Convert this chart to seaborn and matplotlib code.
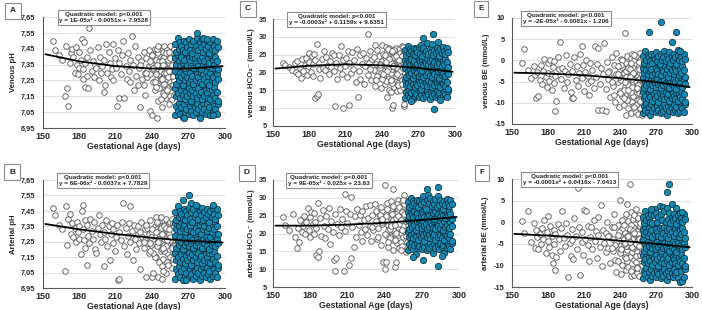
import matplotlib
matplotlib.use("Agg")
import matplotlib.pyplot as plt
import seaborn as sns
from matplotlib.ticker import FuncFormatter, FixedLocator

# ---------------- data ----------------
preterm_ga = [158, 160, 163, 166, 168, 169, 170, 171, 172, 173,
              174, 175, 176, 177, 178, 179, 180, 180, 181, 182,
              183, 183, 184, 185, 185, 186, 186, 187, 188, 189,
              190, 191, 192, 193, 194, 195, 196, 197, 198, 199,
              200, 200, 201, 202, 203, 204, 205, 206, 207, 208,
              208, 209, 210, 211, 212, 213, 213, 214, 215, 216,
              217, 218, 219, 220, 221, 222, 222, 223, 224, 225,
              226, 227, 228, 228, 229, 230, 231, 232, 233, 234,
              234, 235, 236, 237, 237, 238, 239, 240, 240, 241,
              241, 242, 242, 243, 243, 244, 244, 245, 245, 246,
              246, 246, 247, 247, 247, 248, 248, 248, 249, 249,
              249, 250, 250, 250, 251, 251, 251, 252, 252, 252,
              253, 253, 253, 254, 254, 254, 255, 255, 255, 256,
              256, 256, 257, 257, 257, 258, 258, 258, 245, 250,
              239, 243, 247, 251, 253, 255, 236, 244, 249, 256,
              238, 240, 242, 244, 246, 248, 250, 252, 254, 256,
              241, 243, 245, 247, 249, 251, 253, 255, 257, 258,
              230, 233, 235, 238, 248, 252, 254, 256, 257, 258]

term_ga = [259, 260, 261, 262, 263, 264, 265, 266, 267, 268, 269, 270, 271, 272, 273, 274, 275, 276,
           277, 278, 279, 280, 281, 282, 283, 284, 285, 286, 287, 288, 289, 290, 291, 292, 293, 294,
           259, 260, 261, 262, 263, 264, 265, 266, 267, 268, 269, 270, 271, 272, 273, 274, 275, 276,
           277, 278, 279, 280, 281, 282, 283, 284, 285, 286, 287, 288, 289, 290, 291, 292, 293, 294,
           259, 260, 261, 262, 263, 264, 265, 266, 267, 268, 269, 270, 271, 272, 273, 274, 275, 276,
           277, 278, 279, 280, 281, 282, 283, 284, 285, 286, 287, 288, 289, 290, 291, 292, 293, 294,
           259, 260, 261, 262, 263, 264, 265, 266, 267, 268, 269, 270, 271, 272, 273, 274, 275, 276,
           277, 278, 279, 280, 281, 282, 283, 284, 285, 286, 287, 288, 289, 290, 291, 292, 293, 294,
           259, 260, 261, 262, 263, 264, 265, 266, 267, 268, 269, 270, 271, 272, 273, 274, 275, 276,
           277, 278, 279, 280, 281, 282, 283, 284, 285, 286, 287, 288, 289, 290, 291, 292, 293, 294]

fit_ga = [152, 180, 210, 240, 270, 298]

# A  Venous pH
venous_ph_pre = [7.50, 7.44, 7.41, 7.38, 7.15, 7.47, 7.20, 7.09, 7.36, 7.42,
                 7.45, 7.40, 7.30, 7.46, 7.35, 7.29, 7.43, 7.33, 7.38, 7.51,
                 7.32, 7.26, 7.49, 7.36, 7.21, 7.28, 7.40, 7.20, 7.58, 7.44,
                 7.31, 7.37, 7.27, 7.35, 7.33, 7.46, 7.25, 7.40, 7.30, 7.34,
                 7.18, 7.38, 7.22, 7.48, 7.30, 7.43, 7.36, 7.27, 7.32, 7.48,
                 7.25, 7.39, 7.33, 7.09, 7.44, 7.14, 7.36, 7.29, 7.41, 7.50,
                 7.14, 7.34, 7.26, 7.42, 7.31, 7.24, 7.38, 7.53, 7.35, 7.19,
                 7.47, 7.28, 7.40, 7.22, 7.33, 7.08, 7.37, 7.26, 7.43, 7.30,
                 7.16, 7.39, 7.27, 7.44, 7.34, 7.06, 7.31, 7.03, 7.41, 7.24,
                 7.36, 7.19, 7.45, 7.29, 7.38, 7.01, 7.33, 7.12, 7.42, 7.25,
                 7.37, 7.46, 7.21, 7.31, 7.40, 7.08, 7.34, 7.44, 7.27, 7.17,
                 7.39, 7.30, 7.23, 7.47, 7.35, 7.14, 7.42, 7.26, 7.37, 7.32,
                 7.20, 7.44, 7.29, 7.36, 7.10, 7.41, 7.24, 7.33, 7.47, 7.28,
                 7.38, 7.18, 7.43, 7.30, 7.35, 7.25, 7.40, 7.32, 7.34, 7.40,
                 7.36, 7.25, 7.13, 7.30, 7.38, 7.15, 7.31, 7.35, 7.43, 7.22,
                 7.29, 7.41, 7.24, 7.45, 7.20, 7.37, 7.16, 7.44, 7.31, 7.13,
                 7.33, 7.21, 7.47, 7.26, 7.35, 7.42, 7.27, 7.39, 7.22, 7.45,
                 7.35, 7.22, 7.30, 7.37, 7.26, 7.19, 7.43, 7.35, 7.28, 7.16]
venous_ph_term = [7.03, 7.09, 7.06, 7.11, 7.04, 7.08, 7.02, 7.10, 7.05, 7.07, 7.12, 7.04, 7.09, 7.06, 7.11, 7.03, 7.08, 7.05,
                  7.10, 7.07, 7.02, 7.09, 7.05, 7.11, 7.07, 7.04, 7.10, 7.06, 7.08, 7.03, 7.12, 7.05, 7.09, 7.07, 7.04, 7.10,
                  7.20, 7.15, 7.17, 7.22, 7.14, 7.19, 7.16, 7.21, 7.13, 7.18, 7.15, 7.20, 7.17, 7.12, 7.19, 7.15, 7.21, 7.17,
                  7.14, 7.20, 7.16, 7.18, 7.13, 7.22, 7.15, 7.19, 7.17, 7.14, 7.20, 7.13, 7.19, 7.16, 7.21, 7.14, 7.18, 7.12,
                  7.31, 7.23, 7.28, 7.25, 7.30, 7.27, 7.22, 7.29, 7.25, 7.31, 7.27, 7.24, 7.30, 7.26, 7.28, 7.23, 7.32, 7.25,
                  7.29, 7.27, 7.24, 7.30, 7.23, 7.29, 7.26, 7.31, 7.24, 7.28, 7.22, 7.30, 7.25, 7.27, 7.32, 7.24, 7.29, 7.26,
                  7.39, 7.35, 7.41, 7.37, 7.34, 7.40, 7.36, 7.38, 7.33, 7.42, 7.35, 7.39, 7.37, 7.34, 7.40, 7.33, 7.39, 7.36,
                  7.41, 7.34, 7.38, 7.32, 7.40, 7.35, 7.37, 7.42, 7.34, 7.39, 7.36, 7.41, 7.33, 7.38, 7.35, 7.40, 7.37, 7.32,
                  7.48, 7.43, 7.52, 7.45, 7.49, 7.47, 7.44, 7.50, 7.43, 7.49, 7.46, 7.51, 7.44, 7.48, 7.42, 7.50, 7.45, 7.47,
                  7.52, 7.44, 7.49, 7.46, 7.51, 7.43, 7.48, 7.45, 7.50, 7.47, 7.42, 7.49, 7.45, 7.51, 7.47, 7.44, 7.50, 7.46]
venous_ph_out_ga = [277, 282, 285, 266, 279, 290]
venous_ph_out = [7.55, 7.52, 7.51, 7.01, 7.01, 7.03]
venous_ph_fit = [7.415, 7.37, 7.34, 7.325, 7.325, 7.34]

# C  venous HCO3-
venous_hco3_pre = [22.7, 22.0, 21.5, 20.8, 22.6, 20.1, 23.3, 19.6, 21.2, 18.4,
                   23.8, 20.5, 22.2, 24.1, 19.2, 21.7, 25.6, 23.0, 20.2, 24.7,
                   22.4, 18.9, 25.3, 12.8, 23.5, 13.5, 27.9, 14.0, 21.1, 18.5,
                   23.9, 21.3, 26.1, 20.6, 24.4, 22.0, 19.7, 23.2, 21.5, 25.4,
                   20.3, 24.8, 10.5, 22.6, 18.1, 25.0, 21.4, 27.3, 19.5, 23.6,
                   10.1, 21.8, 24.2, 18.7, 26.0, 10.9, 22.7, 19.9, 25.8, 21.0,
                   23.4, 17.2, 26.6, 13.2, 20.4, 24.9, 18.2, 22.3, 25.5, 16.9,
                   21.9, 24.0, 30.8, 19.3, 22.8, 25.9, 17.8, 23.7, 20.6, 27.6,
                   16.2, 22.5, 26.4, 19.0, 24.6, 21.2, 15.6, 27.8, 23.1, 18.6,
                   25.2, 20.8, 16.8, 23.9, 27.2, 13.0, 21.6, 18.3, 25.7, 22.4,
                   15.1, 26.9, 19.8, 23.3, 14.4, 10.0, 24.1, 20.9, 11.0, 26.3,
                   18.0, 22.0, 15.9, 25.1, 21.3, 27.0, 17.4, 23.6, 19.4, 14.8,
                   24.7, 20.5, 16.4, 22.9, 26.6, 18.8, 21.8, 25.5, 15.2, 23.2,
                   19.6, 27.4, 16.0, 22.6, 24.9, 10.7, 20.1, 11.3, 21.0, 24.3,
                   20.0, 17.6, 22.8, 19.1, 17.0, 24.0, 18.9, 26.1, 21.7, 17.9,
                   22.3, 18.1, 25.0, 20.4, 23.8, 17.0, 26.2, 21.4, 19.2, 24.5,
                   19.5, 23.0, 26.6, 17.8, 21.9, 24.7, 16.5, 20.3, 27.1, 22.9,
                   20.9, 24.3, 18.0, 22.1, 25.9, 19.7, 23.5, 16.8, 21.3, 26.0]
venous_hco3_term = [12.8, 14.6, 13.7, 15.2, 13.1, 14.3, 12.5, 14.9, 13.4, 14.0, 15.5, 13.1, 14.6, 13.7, 15.2, 12.8, 14.3, 13.4,
                    14.9, 14.0, 12.5, 14.6, 13.4, 15.2, 14.0, 13.1, 14.9, 13.7, 14.3, 12.8, 15.5, 13.4, 14.6, 14.0, 13.1, 14.9,
                    17.9, 16.4, 17.0, 18.5, 16.1, 17.6, 16.7, 18.2, 15.8, 17.3, 16.4, 17.9, 17.0, 15.5, 17.6, 16.4, 18.2, 17.0,
                    16.1, 17.9, 16.7, 17.3, 15.8, 18.5, 16.4, 17.6, 17.0, 16.1, 17.9, 15.8, 17.6, 16.7, 18.2, 16.1, 17.3, 15.5,
                    21.2, 18.8, 20.3, 19.4, 20.9, 20.0, 18.5, 20.6, 19.4, 21.2, 20.0, 19.1, 20.9, 19.7, 20.3, 18.8, 21.5, 19.4,
                    20.6, 20.0, 19.1, 20.9, 18.8, 20.6, 19.7, 21.2, 19.1, 20.3, 18.5, 20.9, 19.4, 20.0, 21.5, 19.1, 20.6, 19.7,
                    23.6, 22.4, 24.2, 23.0, 22.1, 23.9, 22.7, 23.3, 21.8, 24.5, 22.4, 23.6, 23.0, 22.1, 23.9, 21.8, 23.6, 22.7,
                    24.2, 22.1, 23.3, 21.5, 23.9, 22.4, 23.0, 24.5, 22.1, 23.6, 22.7, 24.2, 21.8, 23.3, 22.4, 23.9, 23.0, 21.5,
                    26.3, 24.8, 27.5, 25.4, 26.6, 26.0, 25.1, 26.9, 24.8, 26.6, 25.7, 27.2, 25.1, 27.8, 24.5, 26.9, 25.4, 26.0,
                    28.2, 25.1, 26.6, 25.7, 27.9, 24.8, 26.3, 25.4, 26.9, 26.0, 24.5, 26.6, 25.4, 27.2, 26.0, 25.1, 26.9, 25.7]
venous_hco3_out_ga = [283, 282, 274, 264, 288, 286]
venous_hco3_out = [9.8, 30.7, 29.6, 12.0, 12.4, 28.6]
venous_hco3_fit = [21.1, 21.9, 22.3, 22.0, 21.3, 20.2]

# E  venous BE
venous_be_pre = [-0.6, 2.7, -2.2, -4.1, -1.3, -3.5, -8.8, -2.8, -8.4, -4.6,
                 -1.0, -5.6, -2.4, 0.4, -3.9, -6.2, -0.7, -2.9, -4.8, 0.1,
                 -3.2, -7.0, -1.5, -5.4, -0.2, -12.0, -3.7, -9.5, 0.7, -2.0,
                 4.4, -4.4, -1.8, -6.6, -2.6, 1.2, -5.0, -3.3, -0.9, -7.4,
                 -8.8, -2.4, -8.9, 0.9, -4.7, -1.4, -6.0, -3.0, 1.4, 3.5,
                 -4.2, -1.1, -7.1, -2.7, 0.2, -5.3, -3.6, -8.2, -0.5, -4.9,
                 -2.2, -6.4, 3.3, -3.8, -0.8, 2.9, -11.6, -5.6, -1.9, -11.7,
                 -3.1, 4.2, -12.0, -6.8, -0.3, -4.5, -2.4, -8.6, 0.8, -3.9,
                 -6.1, -1.2, -9.9, -3.3, 1.7, -5.2, -11.0, -2.0, -7.3, 0.3,
                 -4.6, -8.4, -1.6, -10.6, -3.0, 6.5, -6.2, -0.6, -12.9, -4.0,
                 -9.0, 1.0, -5.7, -2.6, -11.3, -7.6, -1.0, -4.4, -12.3, 0.6,
                 -6.8, -3.4, -9.7, 1.5, -5.1, -1.9, -10.8, -7.1, -2.9, 0.0,
                 -4.8, -12.1, -8.0, -2.2, -6.4, 0.9, -3.7, -9.3, -12.6, -1.3,
                 -5.5, -7.8, -2.9, -11.2, 0.4, -4.1, -8.9, -12.9, -2.5, -4.4,
                 -3.8, -6.9, -1.7, -8.3, 1.1, -5.8, -4.3, -9.1, -7.4, -2.0,
                 -3.2, -7.7, 0.1, -5.0, -9.4, -2.0, -6.3, 1.3, -10.2, -4.5,
                 -1.1, -8.8, -4.0, -6.9, -0.5, -3.0, -10.5, -5.7, 1.8, -8.0,
                 -2.7, -5.0, -8.2, -1.4, -3.9, -11.0, -6.5, -0.3, -9.6, -3.3]
venous_be_term = [-12.5, -10.7, -11.6, -10.1, -12.2, -11.0, -12.8, -10.4, -11.9, -11.3, -9.8, -12.2, -10.7, -11.6, -10.1, -12.5, -11.0, -11.9,
                  -10.4, -11.3, -12.8, -10.7, -11.9, -10.1, -11.3, -12.2, -10.4, -11.6, -11.0, -12.5, -9.8, -11.9, -10.7, -11.3, -12.2, -10.4,
                  -7.4, -8.9, -8.3, -6.8, -9.2, -7.7, -8.6, -7.1, -9.5, -8.0, -8.9, -7.4, -8.3, -9.8, -7.7, -8.9, -7.1, -8.3,
                  -9.2, -7.4, -8.6, -8.0, -9.5, -6.8, -8.9, -7.7, -8.3, -9.2, -7.4, -9.5, -7.7, -8.6, -7.1, -9.2, -8.0, -9.8,
                  -4.1, -6.5, -5.0, -5.9, -4.4, -5.3, -6.8, -4.7, -5.9, -4.1, -5.3, -6.2, -4.4, -5.6, -5.0, -6.5, -3.8, -5.9,
                  -4.7, -5.3, -6.2, -4.4, -6.5, -4.7, -5.6, -4.1, -6.2, -5.0, -6.8, -4.4, -5.9, -5.3, -3.8, -6.2, -4.7, -5.6,
                  -1.7, -2.9, -1.1, -2.3, -3.2, -1.4, -2.6, -2.0, -3.5, -0.8, -2.9, -1.7, -2.3, -3.2, -1.4, -3.5, -1.7, -2.6,
                  -1.1, -3.2, -2.0, -3.8, -1.4, -2.9, -2.3, -0.8, -3.2, -1.7, -2.6, -1.1, -3.5, -2.0, -2.9, -1.4, -2.3, -3.8,
                  1.0, -0.5, 2.2, 0.1, 1.3, 0.7, -0.2, 1.6, -0.5, 1.3, 0.4, 1.9, -0.2, 1.0, -0.8, 1.6, 0.1, 0.7,
                  2.2, -0.2, 1.3, 0.4, 1.9, -0.5, 1.0, 0.1, 1.6, 0.7, -0.8, 1.3, 0.1, 1.9, 0.7, -0.2, 1.6, 0.4]
venous_be_out_ga = [274, 264, 287, 283, 288, 290]
venous_be_out = [9.1, 6.7, 6.7, 4.4, 2.4, 2.2]
venous_be_fit = [-2.9, -3.1, -3.5, -4.2, -5.1, -6.3]

# B  Arterial pH
arterial_ph_pre = [7.47, 7.42, 7.36, 7.33, 7.06, 7.48, 7.23, 7.40, 7.43, 7.30,
                   7.37, 7.28, 7.34, 7.25, 7.38, 7.31, 7.35, 7.27, 7.17, 7.45,
                   7.49, 7.33, 7.26, 7.39, 7.21, 7.10, 7.36, 7.29, 7.24, 7.40,
                   7.32, 7.27, 7.38, 7.20, 7.18, 7.34, 7.42, 7.30, 7.25, 7.36,
                   7.09, 7.31, 7.27, 7.39, 7.22, 7.35, 7.13, 7.30, 7.37, 7.24,
                   7.33, 7.19, 7.28, 7.36, 7.00, 7.01, 7.31, 7.26, 7.38, 7.50,
                   7.22, 7.34, 7.17, 7.29, 7.37, 7.48, 7.25, 7.32, 7.13, 7.36,
                   7.27, 7.20, 7.35, 7.30, 7.24, 7.07, 7.38, 7.28, 7.21, 7.33,
                   7.26, 7.02, 7.34, 7.18, 7.30, 7.39, 7.23, 7.02, 7.31, 7.05,
                   7.27, 7.35, 7.16, 7.29, 7.41, 7.22, 7.33, 7.02, 7.26, 7.12,
                   7.30, 7.38, 7.19, 7.25, 7.35, 7.01, 7.28, 7.09, 7.33, 7.21,
                   7.14, 7.27, 7.36, 7.23, 7.31, 7.05, 7.40, 7.18, 7.29, 7.34,
                   7.24, 7.11, 7.32, 7.37, 7.20, 7.28, 7.15, 7.30, 7.38, 7.25,
                   7.08, 7.33, 7.22, 7.29, 7.36, 7.17, 7.27, 7.40, 7.32, 7.19,
                   7.28, 7.15, 7.34, 7.22, 7.31, 7.26, 7.24, 7.37, 7.06, 7.31,
                   7.24, 7.33, 7.15, 7.38, 7.27, 7.20, 7.35, 7.12, 7.30, 7.40,
                   7.18, 7.31, 7.25, 7.41, 7.21, 7.34, 7.10, 7.28, 7.37, 7.22,
                   7.31, 7.25, 7.36, 7.19, 7.30, 7.26, 7.33, 7.21, 7.14, 7.35]
arterial_ph_term = [7.01, 7.07, 7.04, 7.09, 7.02, 7.06, 7.00, 7.08, 7.03, 7.05, 7.10, 7.02, 7.07, 7.04, 7.09, 7.01, 7.06, 7.03,
                    7.08, 7.05, 7.00, 7.07, 7.03, 7.09, 7.05, 7.02, 7.08, 7.04, 7.06, 7.01, 7.10, 7.03, 7.07, 7.05, 7.02, 7.08,
                    7.18, 7.13, 7.15, 7.20, 7.12, 7.17, 7.14, 7.19, 7.11, 7.16, 7.13, 7.18, 7.15, 7.10, 7.17, 7.13, 7.19, 7.15,
                    7.12, 7.18, 7.14, 7.16, 7.11, 7.20, 7.13, 7.17, 7.15, 7.12, 7.18, 7.11, 7.17, 7.14, 7.19, 7.12, 7.16, 7.10,
                    7.29, 7.21, 7.26, 7.23, 7.28, 7.25, 7.20, 7.27, 7.23, 7.29, 7.25, 7.22, 7.28, 7.24, 7.26, 7.21, 7.30, 7.23,
                    7.27, 7.25, 7.22, 7.28, 7.21, 7.27, 7.24, 7.29, 7.22, 7.26, 7.20, 7.28, 7.23, 7.25, 7.30, 7.22, 7.27, 7.24,
                    7.37, 7.33, 7.39, 7.35, 7.32, 7.38, 7.34, 7.36, 7.31, 7.40, 7.33, 7.37, 7.35, 7.32, 7.38, 7.31, 7.37, 7.34,
                    7.39, 7.32, 7.36, 7.30, 7.38, 7.33, 7.35, 7.40, 7.32, 7.37, 7.34, 7.39, 7.31, 7.36, 7.33, 7.38, 7.35, 7.30,
                    7.44, 7.39, 7.48, 7.41, 7.45, 7.43, 7.40, 7.46, 7.39, 7.45, 7.42, 7.47, 7.40, 7.44, 7.38, 7.46, 7.41, 7.43,
                    7.48, 7.40, 7.45, 7.42, 7.47, 7.39, 7.44, 7.41, 7.46, 7.43, 7.38, 7.45, 7.41, 7.47, 7.43, 7.40, 7.46, 7.42]
arterial_ph_out_ga = [270, 265, 272, 290, 276, 268]
arterial_ph_out = [7.55, 7.52, 7.50, 7.49, 7.49, 7.00]
arterial_ph_fit = [7.365, 7.33, 7.30, 7.275, 7.255, 7.245]

# D  arterial HCO3-
arterial_hco3_pre = [24.5, 22.3, 21.0, 25.5, 19.0, 16.0, 21.6, 17.5, 23.8, 20.4,
                     22.2, 25.0, 19.8, 23.3, 27.1, 21.1, 24.6, 18.9, 26.0, 22.7,
                     20.0, 25.8, 23.2, 14.0, 21.5, 13.5, 28.6, 15.0, 24.3, 19.4,
                     26.5, 22.0, 18.6, 24.9, 21.3, 27.2, 17.0, 23.5, 20.3, 12.5,
                     9.5, 25.4, 13.0, 22.6, 19.7, 26.8, 21.9, 24.1, 9.5, 31.2,
                     20.8, 26.2, 23.0, 11.3, 25.6, 13.2, 30.3, 21.7, 16.3, 24.8,
                     19.1, 27.0, 22.4, 25.2, 20.5, 18.0, 26.4, 23.7, 21.2, 27.6,
                     19.6, 24.4, 22.1, 27.9, 17.8, 25.1, 20.9, 28.3, 23.6, 18.4,
                     26.1, 21.5, 24.8, 16.9, 27.5, 22.8, 12.1, 33.5, 10.0, 12.1,
                     25.5, 19.2, 28.6, 22.3, 16.1, 26.7, 20.6, 24.0, 29.1, 18.1,
                     23.4, 27.2, 32.6, 21.1, 15.4, 10.5, 25.8, 19.9, 12.0, 28.0,
                     22.5, 17.3, 26.4, 24.2, 19.5, 29.5, 21.8, 15.8, 27.4, 23.0,
                     20.2, 25.9, 17.6, 28.8, 22.9, 16.5, 26.2, 24.6, 19.0, 30.8,
                     21.4, 27.7, 18.2, 25.3, 14.9, 23.8, 29.0, 20.7, 22.7, 25.7,
                     24.7, 21.0, 23.9, 26.9, 15.5, 22.1, 25.3, 18.8, 24.4, 28.4,
                     23.2, 19.8, 27.0, 21.4, 25.6, 18.3, 28.4, 22.8, 26.1, 20.6,
                     24.9, 17.6, 22.0, 27.8, 20.1, 25.0, 23.7, 29.3, 19.2, 26.5,
                     21.7, 26.4, 19.0, 24.2, 22.3, 27.3, 20.9, 25.4, 23.6, 17.5]
arterial_hco3_term = [15.3, 17.1, 16.2, 17.7, 15.6, 16.8, 14.3, 17.4, 15.9, 16.5, 18.0, 15.6, 17.1, 16.2, 17.7, 15.3, 16.8, 15.9,
                      17.4, 16.5, 14.4, 17.1, 15.9, 17.7, 16.5, 15.6, 17.4, 16.2, 16.8, 14.6, 18.0, 15.9, 17.1, 16.5, 15.6, 17.4,
                      20.4, 18.9, 19.5, 21.0, 18.6, 20.1, 19.2, 20.7, 18.3, 19.8, 18.9, 20.4, 19.5, 18.0, 20.1, 18.9, 20.7, 19.5,
                      18.6, 20.4, 19.2, 19.8, 18.3, 21.0, 18.9, 20.1, 19.5, 18.6, 20.4, 18.3, 20.1, 19.2, 20.7, 18.6, 19.8, 18.0,
                      23.7, 21.3, 22.8, 21.9, 23.4, 22.5, 21.0, 23.1, 21.9, 23.7, 22.5, 21.6, 23.4, 22.2, 22.8, 21.3, 24.0, 21.9,
                      23.1, 22.5, 21.6, 23.4, 21.3, 23.1, 22.2, 23.7, 21.6, 22.8, 21.0, 23.4, 21.9, 22.5, 24.0, 21.6, 23.1, 22.2,
                      26.1, 24.9, 26.7, 25.5, 24.6, 26.4, 25.2, 25.8, 24.3, 27.0, 24.9, 26.1, 25.5, 24.6, 26.4, 24.3, 26.1, 25.2,
                      26.7, 24.6, 25.8, 24.0, 26.4, 24.9, 25.5, 27.0, 24.6, 26.1, 25.2, 26.7, 24.3, 25.8, 24.9, 26.4, 25.5, 24.0,
                      28.8, 27.3, 30.0, 27.9, 29.1, 28.5, 27.6, 29.4, 27.3, 29.1, 28.2, 29.7, 30.6, 28.8, 27.0, 29.4, 30.9, 28.5,
                      30.0, 27.6, 29.1, 28.2, 29.7, 27.3, 30.4, 27.9, 29.4, 28.5, 27.0, 29.1, 27.9, 29.7, 28.5, 27.6, 29.4, 28.2]
arterial_hco3_out_ga = [283, 283, 274, 263, 271, 286]
arterial_hco3_out = [11.0, 33.1, 32.6, 13.5, 12.7, 13.6]
arterial_hco3_fit = [22.2, 22.2, 22.5, 23.0, 23.8, 24.6]

# F  arterial BE
arterial_be_pre = [0.3, -2.4, 2.7, -4.6, -0.2, -6.0, -1.9, -3.5, -6.3, -2.8,
                   -5.1, -1.3, -3.9, 0.6, -7.2, -2.2, -4.4, 1.5, -5.8, -0.9,
                   -3.2, -7.7, -9.5, -1.7, -5.0, -11.1, -2.7, -8.0, -0.5, -4.0,
                   -6.6, -1.4, 2.7, -3.6, -5.5, -0.1, -2.9, -12.6, -4.7, -7.8,
                   -1.6, -4.1, -8.6, 0.9, -3.1, -6.1, 7.9, -1.0, -12.3, -4.6,
                   -2.3, -7.5, 2.9, -3.8, 2.6, -5.3, -0.8, -9.0, -3.4, -1.2,
                   -6.3, 0.5, -4.3, -2.0, -8.3, -3.0, 1.2, -5.7, 4.0, -10.2,
                   -1.8, -4.9, -7.0, -2.6, 0.0, -5.9, -3.3, -9.5, -1.1, -6.7,
                   -3.9, 1.9, -8.8, -4.6, -11.5, -0.7, -6.0, 5.1, -3.0, -12.0,
                   -5.2, -1.5, -9.8, 0.8, -4.0, -7.3, -2.4, -11.0, 1.8, 4.1,
                   -6.5, -3.2, -10.4, 0.2, -5.4, 8.8, -8.1, -1.9, -12.4, -4.8,
                   2.3, -7.0, -2.8, -10.9, -5.9, 0.7, -3.6, -8.7, -12.2, -1.4,
                   -4.5, 3.0, -9.3, -2.1, -6.8, -11.8, 0.4, -5.1, -3.0, -8.2,
                   1.6, -12.5, -4.2, -7.6, -0.9, -10.0, -2.5, -6.1, -5.6, -4.0,
                   -2.2, -5.0, -3.6, -1.0, -7.9, -2.7, -5.3, -8.0, -0.6, -3.7,
                   -2.9, -7.1, 0.6, -4.7, -9.0, -1.6, -5.8, 1.7, -10.3, -3.8,
                   -6.2, -0.7, -8.4, -3.3, -11.3, -2.0, -5.0, 0.9, -7.6, -4.2,
                   -3.1, -6.0, -1.2, -8.9, -4.6, -2.4, -10.7, -5.5, -0.2, -7.2]
arterial_be_term = [-13.0, -11.2, -12.1, -10.6, -12.7, -11.5, -13.3, -10.9, -12.4, -11.8, -10.3, -12.7, -11.2, -12.1, -10.6, -13.0, -11.5, -12.4,
                    -10.9, -11.8, -13.3, -11.2, -12.4, -10.6, -11.8, -12.7, -10.9, -12.1, -11.5, -13.0, -10.3, -13.8, -11.2, -13.6, -12.7, -10.9,
                    -7.7, -9.2, -8.6, -7.1, -9.5, -8.0, -8.9, -7.4, -9.8, -8.3, -9.2, -7.7, -8.6, -10.1, -8.0, -9.2, -7.4, -8.6,
                    -9.5, -7.7, -8.9, -8.3, -9.8, -7.1, -9.2, -8.0, -8.6, -9.5, -7.7, -9.8, -8.0, -8.9, -7.4, -9.5, -8.3, -10.1,
                    -4.2, -6.6, -5.1, -6.0, -4.5, -5.4, -6.9, -4.8, -6.0, -4.2, -5.4, -6.3, -4.5, -5.7, -5.1, -6.6, -3.9, -6.0,
                    -4.8, -5.4, -6.3, -4.5, -6.6, -4.8, -5.7, -4.2, -6.3, -5.1, -6.9, -4.5, -6.0, -5.4, -3.9, -6.3, -4.8, -5.7,
                    -1.6, -2.8, -1.0, -2.2, -3.1, -1.3, -2.5, -1.9, -3.4, -0.7, -2.8, -1.6, -2.2, -3.1, -1.3, -3.4, -1.6, -2.5,
                    -1.0, -3.1, -1.9, -3.7, -1.3, -2.8, -2.2, -0.7, -3.1, -1.6, -2.5, -1.0, -3.4, -1.9, -2.8, -1.3, -2.2, -3.7,
                    1.3, -0.2, 2.5, 0.4, 1.6, 1.0, 0.1, 1.9, -0.2, 1.6, 3.1, 2.2, 0.1, 1.3, 3.8, 1.9, 0.4, 3.6,
                    2.5, 0.1, 3.3, 0.7, 2.2, -0.2, 1.3, 0.4, 1.9, 1.0, -0.5, 1.6, 0.4, 2.2, 1.0, 0.1, 1.9, 0.7]
arterial_be_out_ga = [281, 279, 283, 287, 292, 266]
arterial_be_out = [8.8, 7.0, 4.3, 3.2, 2.4, 3.0]
arterial_be_fit = [-2.7, -3.1, -3.6, -4.3, -5.0, -5.8]

# ---------------- figure ----------------
sns.set_style("white")
plt.rcParams["font.family"] = ["Liberation Sans", "DejaVu Sans"]
plt.rcParams["font.weight"] = "bold"

W, H = 702, 310
fig = plt.figure(figsize=(W / 100, H / 100), dpi=100)

WHITE_EDGE = "#5f5f5f"
BLUE_FACE = "#1689b3"
BLUE_EDGE = "#0a2c3a"
HEAD = "Quadratic model: p<0.001\n"

panels = [
    dict(rect=(43, 17, 225, 128), letter="A", lpos=(13, 11), ylabel="Venous pH",
         pre=venous_ph_pre, term=venous_ph_term, out_ga=venous_ph_out_ga, out=venous_ph_out,
         fit=venous_ph_fit, ylim=(6.95, 7.65), ticks=[6.95, 7.05, 7.15, 7.25, 7.35, 7.45, 7.55, 7.65],
         comma=True, pad=5.5, eq="y = 1E-05x² - 0.0051x + 7.9528", bx=0.335),
    dict(rect=(273, 19, 455, 126), letter="C", lpos=(248, 9), ylabel="venous HCO₃⁻ (mmol/L)",
         pre=venous_hco3_pre, term=venous_hco3_term, out_ga=venous_hco3_out_ga, out=venous_hco3_out,
         fit=venous_hco3_fit, ylim=(5, 35), ticks=[5, 10, 15, 20, 25, 30, 35],
         comma=False, pad=4.3, eq="y = -0.0003x² + 0.1159x + 9.6351", bx=0.35),
    dict(rect=(512, 18, 692, 124), letter="E", lpos=(481, 9), ylabel="venous BE (mmol/L)",
         pre=venous_be_pre, term=venous_be_term, out_ga=venous_be_out_ga, out=venous_be_out,
         fit=venous_be_fit, ylim=(-15, 10), ticks=[-15, -10, -5, 0, 5, 10],
         comma=False, pad=5.0, eq="y = -2E-05x² - 0.0081x - 1.206", bx=0.30),
    dict(rect=(43, 180, 225, 288), letter="B", lpos=(12, 172), ylabel="Arterial pH",
         pre=arterial_ph_pre, term=arterial_ph_term, out_ga=arterial_ph_out_ga, out=arterial_ph_out,
         fit=arterial_ph_fit, ylim=(6.95, 7.65), ticks=[6.95, 7.05, 7.15, 7.25, 7.35, 7.45, 7.55, 7.65],
         comma=True, pad=5.5, eq="y = 6E-06x² - 0.0037x + 7.7829", bx=0.33),
    dict(rect=(273, 180, 459, 287), letter="D", lpos=(247, 173), ylabel="arterial HCO₃⁻ (mmol/L)",
         pre=arterial_hco3_pre, term=arterial_hco3_term, out_ga=arterial_hco3_out_ga, out=arterial_hco3_out,
         fit=arterial_hco3_fit, ylim=(5, 35), ticks=[5, 10, 15, 20, 25, 30, 35],
         comma=False, pad=4.3, eq="y = 9E-05x² - 0.025x + 23.63", bx=0.30),
    dict(rect=(512, 179, 692, 287), letter="F", lpos=(482, 173), ylabel="arterial BE (mmol/L)",
         pre=arterial_be_pre, term=arterial_be_term, out_ga=arterial_be_out_ga, out=arterial_be_out,
         fit=arterial_be_fit, ylim=(-15, 10), ticks=[-15, -10, -5, 0, 5, 10],
         comma=False, pad=5.5, eq="y = -0.0001x² + 0.0416x - 7.0413", bx=0.32),
]

for p in panels:
    x0, y0, x1, y1 = p["rect"]
    ax = fig.add_axes([x0 / W, 1 - y1 / H, (x1 - x0) / W, (y1 - y0) / H])
    ax.set_axisbelow(True)
    ax.yaxis.grid(True, color="#d9d9d9", lw=0.6)
    ax.xaxis.grid(False)

    sns.scatterplot(x=preterm_ga, y=p["pre"], ax=ax, color="white", edgecolor=WHITE_EDGE,
                    s=16, linewidth=0.65, legend=False, zorder=2)
    sns.scatterplot(x=term_ga, y=p["term"], ax=ax, color=BLUE_FACE, edgecolor=BLUE_EDGE,
                    s=21, linewidth=0.55, legend=False, zorder=3)
    sns.scatterplot(x=p["out_ga"], y=p["out"], ax=ax, color=BLUE_FACE, edgecolor=BLUE_EDGE,
                    s=21, linewidth=0.55, legend=False, zorder=3)
    sns.lineplot(x=fit_ga, y=p["fit"], ax=ax, color="black", lw=1.3, zorder=4)

    ax.set_xlim(150, 300)
    ax.set_ylim(*p["ylim"])
    ax.xaxis.set_major_locator(FixedLocator([150, 180, 210, 240, 270, 300]))
    ax.yaxis.set_major_locator(FixedLocator(p["ticks"]))
    if p["comma"]:
        ax.yaxis.set_major_formatter(FuncFormatter(lambda v, _: f"{v:.2f}".replace(".", ",")))
    else:
        ax.yaxis.set_major_formatter(FuncFormatter(lambda v, _: f"{v:.0f}"))
    ax.tick_params(axis="x", length=0, pad=3, labelsize=6.5)
    ax.tick_params(axis="y", length=0, pad=p["pad"], labelsize=5.3)
    for lab in ax.get_xticklabels() + ax.get_yticklabels():
        lab.set_fontweight("bold")

    for s in ("top", "right"):
        ax.spines[s].set_visible(False)
    for s in ("left", "bottom"):
        ax.spines[s].set_color("#595959")
        ax.spines[s].set_linewidth(0.8)

    ax.set_xlabel("Gestational Age (days)", fontsize=6.2, fontweight="bold", labelpad=0.5)
    ax.set_ylabel(p["ylabel"], fontsize=5.6, fontweight="bold", labelpad=3)

    ax.text(p["bx"], 0.995, HEAD + p["eq"], transform=ax.transAxes, ha="center", va="center",
            fontsize=4.6, fontweight="bold", linespacing=1.15, zorder=6, clip_on=False,
            bbox=dict(boxstyle="square,pad=0.3", fc="white", ec="#8c8c8c", lw=0.8))

    lx, ly = p["lpos"]
    fig.text(lx / W, 1 - ly / H, p["letter"], ha="center", va="center", fontsize=6,
             fontweight="bold",
             bbox=dict(boxstyle="square,pad=0.55", fc="white", ec="#8c8c8c", lw=0.8))

fig.savefig("out.png", dpi=100)
